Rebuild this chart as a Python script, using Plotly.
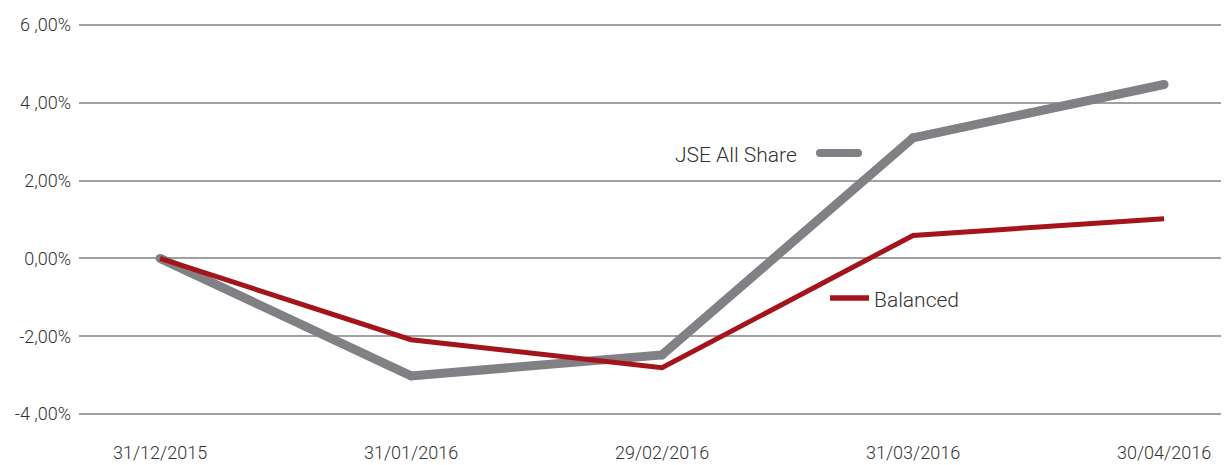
import plotly.graph_objects as go

dates = ["31/12/2015", "31/01/2016", "29/02/2016", "31/03/2016", "30/04/2016"]
jse_all_share = [0.0, -3.02, -2.48, 3.10, 4.47]
balanced = [0.0, -2.09, -2.81, 0.59, 1.02]
y_tick_vals = [-4, -2, 0, 2, 4, 6]
y_tick_text = ["-4 ,00%", "-2,00%", "0,00%", "2,00%", "4 ,00%", "6 ,00%"]

GRAY = "#808085"
RED = "#A3141B"
FONT = "Roboto"
TXT = "#333333"

W, H = 1229, 465
L, R, T, B = 79, 8, 23, 49
PW, PH = W - L - R, H - T - B
YR = [-4.05, 6.05]

def px(x):
    return (x - L) / PW

def py(y):
    return (H - B - y) / PH

fig = go.Figure()
fig.add_trace(go.Scatter(
    x=list(range(len(dates))), y=jse_all_share, mode="lines+markers",
    line=dict(color=GRAY, width=9),
    marker=dict(color=GRAY, size=9, line=dict(width=0)),
    name="JSE All Share", showlegend=False, hoverinfo="skip"))
fig.add_trace(go.Scatter(
    x=list(range(len(dates))), y=balanced, mode="lines",
    line=dict(color=RED, width=5),
    name="Balanced", showlegend=False, hoverinfo="skip"))

# legend-like labels
fig.add_shape(type="line", xref="paper", yref="paper",
              x0=px(820), x1=px(858), y0=py(153), y1=py(153),
              line=dict(color=GRAY, width=8))
for xx in (820, 858):
    fig.add_shape(type="circle", xref="paper", yref="paper",
                  x0=px(xx - 4), x1=px(xx + 4), y0=py(157), y1=py(149),
                  fillcolor=GRAY, line=dict(width=0))
fig.add_annotation(text="JSE All Share", xref="paper", yref="paper",
                   x=px(799), y=py(155), xanchor="right", yanchor="middle",
                   showarrow=False,
                   font=dict(family=FONT, size=21, color=TXT, weight=300))
fig.add_shape(type="line", xref="paper", yref="paper",
              x0=px(830), x1=px(869), y0=py(298), y1=py(298),
              line=dict(color=RED, width=5.5))
fig.add_annotation(text="Balanced", xref="paper", yref="paper",
                   x=px(872), y=py(300), xanchor="left", yanchor="middle",
                   showarrow=False,
                   font=dict(family=FONT, size=21, color=TXT, weight=300))

fig.update_layout(
    width=W, height=H,
    margin=dict(l=L, r=R, t=T, b=B, pad=0, autoexpand=False),
    paper_bgcolor="white", plot_bgcolor="white",
    font=dict(family=FONT, size=18, color=TXT),
    xaxis=dict(
        range=[-0.323, 4.227], tickvals=list(range(len(dates))), ticktext=dates,
        showgrid=False, zeroline=False, showline=False, ticks="",
        automargin=False,
        ticklabelstandoff=24,
        tickfont=dict(family=FONT, size=18, color=TXT, weight=300),
        fixedrange=True),
    yaxis=dict(
        range=YR, tickvals=y_tick_vals, ticktext=y_tick_text,
        showgrid=True, gridcolor="#a0a0a0", gridwidth=1.6,
        zeroline=False, showline=False, ticks="",
        automargin=False,
        ticklabelstandoff=7,
        tickfont=dict(family=FONT, size=18, color=TXT, weight=300),
        fixedrange=True),
)

fig.write_html("out.html", config={"displayModeBar": False},
               post_script="document.body.style.margin='0';document.body.style.overflow='hidden';")
